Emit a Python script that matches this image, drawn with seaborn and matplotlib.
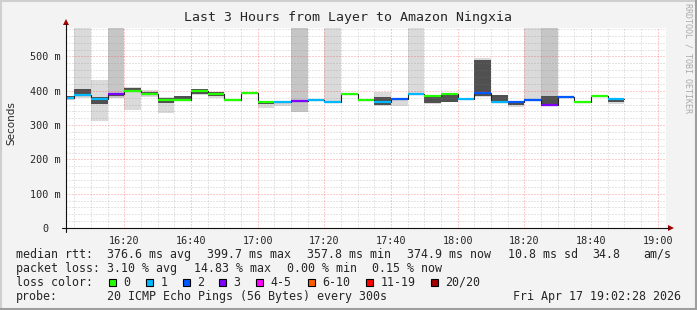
import matplotlib
matplotlib.use("Agg")
import matplotlib.pyplot as plt
import numpy as np
import pandas as pd
import seaborn as sns
from matplotlib.patches import Rectangle, Polygon
from matplotlib.lines import Line2D

# ---------------- data ----------------
seg_start = ['16:00', '16:05', '16:10', '16:15', '16:20', '16:25', '16:30', '16:35',
             '16:40', '16:45', '16:50', '16:55', '17:00', '17:05', '17:10', '17:15',
             '17:20', '17:25', '17:30', '17:35', '17:40', '17:45', '17:50', '17:55',
             '18:00', '18:05', '18:10', '18:15', '18:20', '18:25', '18:30', '18:35',
             '18:40', '18:45']
median_ms = [380, 389, 375, 389.5, 400, 391.5, 372, 374,
             398, 390.5, 372, 392.5, 367, 366, 369, 372,
             366, 389.5, 374, 367, 375, 389.5, 386, 389.5,
             375, 392.5, 368, 368, 372, 360, 381, 366,
             383.7, 377]
loss_pings = [1, 1, 1, 3, 0, 0, 0, 0,
              0, 0, 0, 0, 0, 1, 3, 1,
              1, 0, 0, 1, 2, 1, 0, 0,
              1, 2, 1, 2, 2, 3, 2, 0,
              0, 1]
smoke_min = [372, 378, 311, 380, 345, 382, 335, 370,
             389, 380, 371, 392, 349, 357, 337, 371,
             364, 389, 370, 357, 357, 388, 362, 366,
             374, 382, 366, 354, 370, 358, 380, 365,
             383, 362]
smoke_q1 = [377, 386, 362, 384, 396, 388, 364, 374,
            392, 385, 372, 392, 362, 364, 366, 372,
            366, 389, 372, 359, 375, 389, 363, 367,
            375, 384, 368, 360, 372, 360, 381, 366,
            383, 368]
smoke_q3 = [384, 406, 382, 392, 407, 397, 380, 384,
            404, 395, 372, 393, 369, 366, 370, 372,
            366, 390, 374, 382, 375, 390, 386, 389,
            376, 490, 388, 368, 372, 386, 381, 366,
            384, 376]
smoke_max = [386, 700, 430, 700, 411, 401, 382, 384,
             405, 397, 373, 393, 370, 367, 700, 373,
             700, 390, 376, 395, 376, 700, 388, 391,
             378, 496, 389, 369, 700, 700, 382, 367,
             384, 378]

y_ticks = [0, 100, 200, 300, 400, 500]
y_tick_labels = ['0  ', '100 m', '200 m', '300 m', '400 m', '500 m']
x_ticks = ['16:20', '16:40', '17:00', '17:20', '17:40', '18:00', '18:20', '18:40', '19:00']

loss_legend = ['0', '1', '2', '3', '4-5', '6-10', '11-19', '20/20']
loss_colors = ['#26ff00', '#00b8ff', '#0059ff', '#7e00ff', '#ff00ff', '#ff5e00', '#ff0000', '#a00000']

stats_rtt = ['376.6 ms avg', '399.7 ms max', '357.8 ms min', '374.9 ms now', '10.8 ms sd', '34.8', 'am/s']
stats_loss = ['3.10 % avg', '14.83 % max', '0.00 % min', '0.15 % now']
probe_text = '20 ICMP Echo Pings (56 Bytes) every 300s'
stamp_text = 'Fri Apr 17 19:02:28 2026'
title_text = 'Last 3 Hours from Layer to Amazon Ningxia'

# ---------------- setup ----------------
sns.set_style('white')
plt.rcParams['font.family'] = ['DejaVu Sans Mono', 'DejaVu Sans']

W, H = 697, 310
fig = plt.figure(figsize=(W / 100, H / 100), dpi=100)
fig.patch.set_facecolor('#f3f3f3')


def P(x, y):
    return (x / W, 1 - y / H)


def tmin(s):
    h, m = s.split(':')
    return int(h) * 60 + int(m) - 16 * 60


x0 = 2 + 28 / 60.0          # 16:02:28
x1 = x0 + 180
YMAX = 583

ax_left, ax_right, ax_top, ax_bot = 66, 666, 28, 228
ax = fig.add_axes([ax_left / W, 1 - ax_bot / H, (ax_right - ax_left) / W, (ax_bot - ax_top) / H])
ax.set_facecolor('white')

df = pd.DataFrame({
    't': [tmin(s) for s in seg_start],
    'median': median_ms,
    'loss': loss_pings,
    'lo': smoke_min, 'q1': smoke_q1, 'q3': smoke_q3, 'hi': smoke_max,
})

# smoke
for _, r in df.iterrows():
    outer = '#c6c6c6' if (r['hi'] > YMAX and r['loss'] >= 3) else '#dadada'
    ax.bar(r['t'], r['hi'] - r['lo'], width=5, bottom=r['lo'], align='edge',
           color=outer, linewidth=0, zorder=1)
    if r['q3'] > r['q1']:
        ax.bar(r['t'], r['q3'] - r['q1'], width=5, bottom=r['q1'], align='edge',
               color='#505050', linewidth=0, zorder=1.2)

# median step line (dark) + coloured segments
step = pd.DataFrame({'t': list(df['t']) + [df['t'].iloc[-1] + 5],
                     'median': list(df['median']) + [df['median'].iloc[-1]]})
sns.lineplot(data=step, x='t', y='median', drawstyle='steps-post', color='#202020',
             lw=0.8, ax=ax, legend=False, zorder=3)
ax.hlines(df['median'], df['t'], df['t'] + 5,
          colors=[loss_colors[l] for l in df['loss']], lw=1.6, zorder=4)

ax.set_xlim(x0, x1)
ax.set_ylim(0, YMAX)

# grid (semi-transparent like rrdtool)
ax.set_axisbelow(False)
ax.set_xticks([tmin(s) for s in x_ticks])
ax.set_xticks(np.arange(5, 185, 5), minor=True)
ax.set_yticks(y_ticks)
ax.set_yticks(np.arange(0, YMAX, 20), minor=True)
ax.grid(which='minor', color='#808080', alpha=0.4, linestyle=(0, (1, 2)), lw=0.72)
ax.grid(which='major', color='#ff2020', alpha=0.45, linestyle=(0, (1, 2)), lw=0.72)
ax.set_xticklabels(x_ticks, fontsize=7.3)
ax.set_yticklabels(y_tick_labels, fontsize=7.3)
ax.tick_params(which='both', length=0)
ax.tick_params(axis='x', pad=5.5)
ax.tick_params(axis='y', pad=3.6)
for sp in ax.spines.values():
    sp.set_visible(False)
ax.set_xlabel('')
ax.set_ylabel('')

# axes lines + arrows
fig.add_artist(Line2D([62 / W, 668 / W], [P(0, 228)[1]] * 2, color='#101010', lw=0.8))
fig.add_artist(Line2D([66 / W] * 2, [P(0, 232)[1], P(0, 24)[1]], color='#101010', lw=0.8))
fig.add_artist(Polygon([P(668, 225), P(668, 231), P(674, 228)], closed=True,
                       color='#a00000', lw=0))
fig.add_artist(Polygon([P(63, 25), P(69, 25), P(66, 19)], closed=True,
                       color='#a00000', lw=0))

# texts
fig.text(*P(348.5, 18), title_text, ha='center', va='center', fontsize=9.5)
fig.text(*P(11, 123), 'Seconds', rotation=90, ha='center', va='center',
         fontsize=7.5, family='DejaVu Sans')
fig.text(*P(688, 58), 'RRDTOOL / TOBI OETIKER', rotation=270, ha='center', va='center',
         fontsize=6, color='#aaaaaa')

FS = 8.4
fig.text(*P(16, 254.3), 'median rtt:', va='center', fontsize=FS)
for x, s in zip([107, 207, 307, 407, 508, 592, 643], stats_rtt):
    fig.text(*P(x, 254.3), s, va='center', fontsize=FS)
fig.text(*P(16, 268.3), 'packet loss:', va='center', fontsize=FS)
for x, s in zip([107, 194, 286.7, 372.3], stats_loss):
    fig.text(*P(x, 268.3), s, va='center', fontsize=FS)
fig.text(*P(16, 282.3), 'loss color:', va='center', fontsize=FS)
box_x = [109, 146, 182.7, 219, 256, 307.7, 365.7, 430.7]
for bx, lab, c in zip(box_x, loss_legend, loss_colors):
    fig.add_artist(Rectangle(P(bx, 286), 7 / W, 7 / H, facecolor=c,
                             edgecolor='black', lw=0.8))
    fig.text(*P(bx + 14.5, 282.3), lab, va='center', fontsize=FS)
fig.text(*P(16, 296.3), 'probe:', va='center', fontsize=FS)
fig.text(*P(107, 296.3), probe_text, va='center', fontsize=FS)
fig.text(*P(513, 296.3), stamp_text, va='center', fontsize=FS)

# 3D frame
fig.add_artist(Line2D([0, 1], [1 - 1 / H] * 2, color='#cfcfcf', lw=1.5))
fig.add_artist(Line2D([1 / W] * 2, [0, 1], color='#cfcfcf', lw=1.5))
fig.add_artist(Line2D([0, 1], [1 / H] * 2, color='#9e9e9e', lw=1.5))
fig.add_artist(Line2D([1 - 1 / W] * 2, [0, 1], color='#9e9e9e', lw=1.5))

fig.savefig('out.png', dpi=100, facecolor=fig.get_facecolor())
